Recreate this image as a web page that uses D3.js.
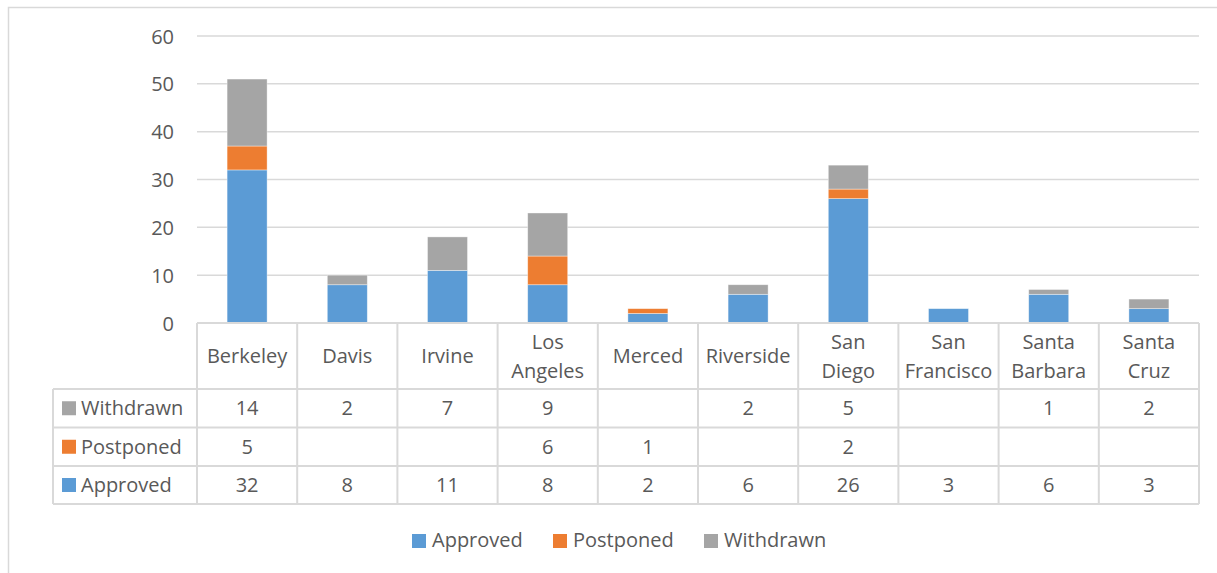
<!DOCTYPE html>
<html>
<head>
<meta charset="utf-8">
<script src="https://cdn.jsdelivr.net/npm/d3@7"></script>
<style>
  html, body { margin: 0; padding: 0; background: #fff; }
  svg { display: block; font-family: "Open Sans", Lato, sans-serif; }
</style>
</head>
<body>
<svg id="chart" width="1217" height="573"></svg>
<script>
// Campus names (line-broken as shown in the data table header)
const campuses = ["Berkeley", "Davis", "Irvine", "Los Angeles", "Merced", "Riverside",
                  "San Diego", "San Francisco", "Santa Barbara", "Santa Cruz"];
const campusLines = [["Berkeley"], ["Davis"], ["Irvine"], ["Los", "Angeles"], ["Merced"],
                     ["Riverside"], ["San", "Diego"], ["San", "Francisco"], ["Santa", "Barbara"], ["Santa", "Cruz"]];

// Series values (null = blank cell in the table)
const approved  = [32, 8, 11, 8, 2, 6, 26, 3, 6, 3];
const postponed = [5, null, null, 6, 1, null, 2, null, null, null];
const withdrawn = [14, 2, 7, 9, null, 2, 5, null, 1, 2];

const seriesNames = ["Approved", "Postponed", "Withdrawn"];
const seriesColors = ["#5B9BD5", "#ED7D31", "#A5A5A5"];
const yTicks = [0, 10, 20, 30, 40, 50, 60];

const svg = d3.select("#chart");
const textColor = "#595959";
const lineColor = "#D9D9D9";
const fontSize = 20;

// Chart frame
svg.append("path")
  .attr("d", "M8.5,573 L8.5,7.5 L1217,7.5")
  .attr("fill", "none").attr("stroke", lineColor).attr("stroke-width", 1.5);

const plotLeft = 197, plotRight = 1199, plotTop = 36, plotBottom = 323;

const x = d3.scaleBand().domain(campuses).range([plotLeft, plotRight]).paddingInner(0).paddingOuter(0);
const y = d3.scaleLinear().domain([0, 60]).range([plotBottom, plotTop]);

// Gridlines
svg.append("g").selectAll("line").data(yTicks.filter(t => t > 0)).join("line")
  .attr("x1", plotLeft).attr("x2", plotRight)
  .attr("y1", d => y(d)).attr("y2", d => y(d))
  .attr("stroke", lineColor).attr("stroke-width", 1.5);

// Y axis labels
const yAxis = d3.axisLeft(y).tickValues(yTicks).tickSize(0).tickPadding(0);
const yg = svg.append("g").attr("transform", `translate(174,0)`).call(yAxis);
yg.select(".domain").remove();
yg.selectAll("text").attr("fill", textColor).attr("font-size", fontSize)
  .attr("font-family", "'Open Sans', Lato, sans-serif").attr("dy", "0.35em");

// Stacked bars
const rows = campuses.map((c, i) => ({
  campus: c, Approved: approved[i] || 0, Postponed: postponed[i] || 0, Withdrawn: withdrawn[i] || 0
}));
const stacked = d3.stack().keys(seriesNames)(rows);
const barW = 40;
svg.append("g").selectAll("g").data(stacked).join("g")
  .attr("fill", (d, i) => seriesColors[i])
  .selectAll("rect").data(d => d.filter(s => s[1] - s[0] > 0)).join("rect")
  .attr("x", d => x(d.data.campus) + x.bandwidth() / 2 - barW / 2)
  .attr("width", barW)
  .attr("y", d => y(d[1]))
  .attr("height", d => y(d[0]) - y(d[1]))
  .attr("stroke", "#ffffff").attr("stroke-opacity", 0.5).attr("stroke-width", 0.75);

// Data table
const headerBottom = 389;
const rowEdges = [389, 427.5, 466, 504];
const tableLeft = 53;
const tbl = svg.append("g").attr("stroke", lineColor).attr("stroke-width", 2).attr("fill", "none");

// Vertical lines for category columns
campuses.forEach((c, i) => {
  tbl.append("line").attr("x1", x(c)).attr("x2", x(c)).attr("y1", plotBottom).attr("y2", rowEdges[3]);
});
tbl.append("line").attr("x1", plotRight).attr("x2", plotRight).attr("y1", plotBottom).attr("y2", rowEdges[3]);
// Top line of the header row
tbl.append("line").attr("x1", plotLeft).attr("x2", plotRight).attr("y1", plotBottom).attr("y2", plotBottom);
// Row lines
rowEdges.forEach(yy => {
  tbl.append("line").attr("x1", tableLeft).attr("x2", plotRight).attr("y1", yy).attr("y2", yy);
});
tbl.append("line").attr("x1", tableLeft).attr("x2", tableLeft).attr("y1", rowEdges[0]).attr("y2", rowEdges[3]);

// Header text
const hdr = svg.append("g").attr("fill", textColor).attr("font-size", fontSize).attr("text-anchor", "middle");
campusLines.forEach((lines, i) => {
  const cx = x(campuses[i]) + x.bandwidth() / 2;
  const mid = (plotBottom + headerBottom) / 2;
  const lh = 29;
  lines.forEach((ln, j) => {
    hdr.append("text")
      .attr("x", cx)
      .attr("y", mid + (j - (lines.length - 1) / 2) * lh)
      .attr("dy", "0.35em")
      .text(ln);
  });
});

// Table rows: Withdrawn, Postponed, Approved (top to bottom)
const tableRows = [
  { name: "Withdrawn", values: withdrawn, color: seriesColors[2] },
  { name: "Postponed", values: postponed, color: seriesColors[1] },
  { name: "Approved", values: approved, color: seriesColors[0] }
];
tableRows.forEach((r, ri) => {
  const cy = (rowEdges[ri] + rowEdges[ri + 1]) / 2;
  svg.append("rect").attr("x", 62).attr("y", cy - 7).attr("width", 14).attr("height", 14).attr("fill", r.color);
  svg.append("text").attr("x", 81).attr("y", cy).attr("dy", "0.35em")
    .attr("fill", textColor).attr("font-size", fontSize).text(r.name);
  r.values.forEach((v, i) => {
    if (v == null) return;
    svg.append("text")
      .attr("x", x(campuses[i]) + x.bandwidth() / 2).attr("y", cy).attr("dy", "0.35em")
      .attr("text-anchor", "middle").attr("fill", textColor).attr("font-size", fontSize).text(v);
  });
});

// Legend
const legendItems = [
  { name: "Approved", x: 412 },
  { name: "Postponed", x: 553 },
  { name: "Withdrawn", x: 704 }
];
const lg = svg.append("g");
legendItems.forEach((d, i) => {
  lg.append("rect").attr("x", d.x).attr("y", 534).attr("width", 14).attr("height", 14).attr("fill", seriesColors[i]);
  lg.append("text").attr("x", d.x + 20).attr("y", 540).attr("dy", "0.35em")
    .attr("fill", textColor).attr("font-size", fontSize).text(d.name);
});
</script>
</body>
</html>
